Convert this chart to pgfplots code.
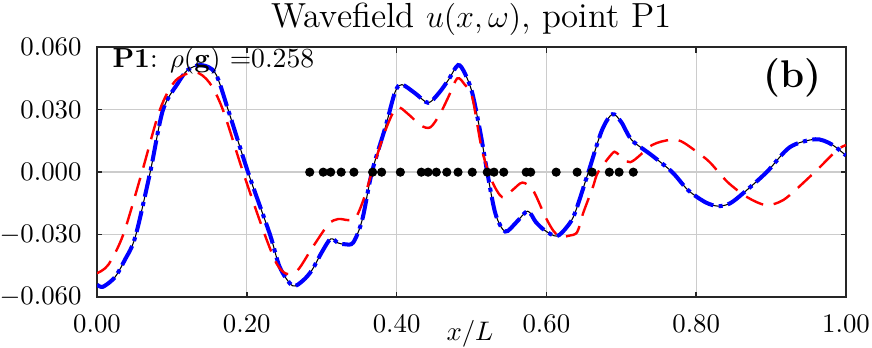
\documentclass[border=0pt]{standalone}
\usepackage{pgfplots}
\usepackage{pgfplotstable}
\pgfplotsset{compat=1.18}
\definecolor{gridgray}{gray}{0.80}
\definecolor{framegray}{gray}{0.15}
\pgfplotstableread{
x y
0.000 -0.0540
0.008 -0.0550
0.024 -0.0504
0.037 -0.0422
0.051 -0.0312
0.071 0.0000
0.088 0.0298
0.108 0.0427
0.121 0.0490
0.139 0.0514
0.158 0.0475
0.175 0.0300
0.2016 0.0000
0.231 -0.0300
0.244 -0.0456
0.261 -0.0545
0.275 -0.0520
0.287 -0.0470
0.300 -0.0385
0.312 -0.0320
0.322 -0.0340
0.331 -0.0346
0.342 -0.0338
0.354 -0.0230
0.367 0.0000
0.385 0.0216
0.398 0.0385
0.407 0.0420
0.425 0.0378
0.442 0.0333
0.456 0.0378
0.469 0.0442
0.482 0.0514
0.491 0.0475
0.501 0.0380
0.512 0.0187
0.521 0.0000
0.532 -0.0200
0.545 -0.0285
0.560 -0.0240
0.575 -0.0187
0.586 -0.0240
0.598 -0.0280
0.614 -0.0307
0.628 -0.0260
0.638 -0.0197
0.656 0.0000
0.674 0.0200
0.688 0.0278
0.700 0.0240
0.714 0.0154
0.741 0.0080
0.768 0.0000
0.789 -0.0086
0.812 -0.0144
0.829 -0.0163
0.845 -0.0150
0.863 -0.0100
0.894 0.0000
0.925 0.0120
0.959 0.0158
0.980 0.0135
1.000 0.0080
}\exact
\pgfplotstableread{
x y
0.000 -0.0485
0.015 -0.0445
0.035 -0.0300
0.060 0.0000
0.084 0.0300
0.105 0.0440
0.131 0.0480
0.150 0.0430
0.168 0.0300
0.195 0.0000
0.224 -0.0300
0.240 -0.0440
0.253 -0.0488
0.268 -0.0470
0.287 -0.0365
0.309 -0.0250
0.322 -0.0225
0.335 -0.0230
0.345 -0.0222
0.356 -0.0130
0.367 0.0000
0.385 0.0200
0.400 0.0310
0.415 0.0280
0.432 0.0225
0.445 0.0215
0.458 0.0280
0.469 0.0360
0.481 0.0450
0.491 0.0420
0.501 0.0360
0.514 0.0106
0.527 -0.0040
0.541 -0.0120
0.555 -0.0085
0.568 -0.0050
0.582 -0.0086
0.598 -0.0210
0.609 -0.0280
0.618 -0.0310
0.630 -0.0305
0.641 -0.0288
0.649 -0.0197
0.662 -0.0072
0.669 0.0000
0.688 0.0090
0.694 0.0092
0.712 0.0048
0.741 0.0130
0.765 0.0155
0.780 0.0148
0.801 0.0097
0.818 0.0048
0.842 -0.0048
0.868 -0.0120
0.892 -0.0158
0.910 -0.0145
0.925 -0.0110
0.961 0.0010
0.988 0.0106
1.000 0.0130
}\recon
\pgfplotstableread{
x y
0.284 0
0.302 0
0.312 0
0.326 0
0.343 0
0.368 0
0.380 0
0.405 0
0.433 0
0.442 0
0.453 0
0.467 0
0.482 0
0.501 0
0.521 0
0.530 0
0.543 0
0.573 0
0.579 0
0.613 0
0.641 0
0.661 0
0.684 0
0.697 0
0.716 0
}\points
\begin{document}
\begin{tikzpicture}
\begin{axis}[
  scale only axis,
  width=279.5pt, height=93.3pt,
  xmin=0, xmax=1, ymin=-0.06, ymax=0.06,
  xtick={0,0.2,0.4,0.6,0.8,1.0},
  ytick={-0.06,-0.03,0,0.03,0.06},
  scaled x ticks=false, scaled y ticks=false,
  xticklabel style={inner sep=0pt, anchor=north, yshift=-6.4pt, /pgf/number format/.cd, fixed, fixed zerofill, precision=2},
  yticklabel style={inner sep=0pt, anchor=east, xshift=-5.6pt, /pgf/number format/.cd, fixed, fixed zerofill, precision=3},
  grid=major,
  major grid style={gridgray, line width=0.5pt},
  axis line style={framegray, line width=0.6pt},
  tick style={framegray, line width=0.6pt},
  major tick length=2pt,
  tick align=inside,
  title={\fontsize{13}{15}\selectfont Wavefield $u(x,\omega)$, point P1},
  title style={at={(axis description cs:0.5,1)}, anchor=base, inner sep=0pt, yshift=1.5pt},
  xlabel={$x/L$},
  xlabel style={at={(axis description cs:0.498,0)}, anchor=base, inner sep=0pt, yshift=-16pt},
  clip=true,
]
\addplot[black, line width=0.4pt, smooth] table {\exact};
\addplot[blue, line width=1.5pt, dash pattern=on 8pt off 2pt on 1.5pt off 2pt, smooth] table {\exact};
\addplot[red, line width=0.9pt, dash pattern=on 7pt off 4pt, smooth] table {\recon};
\addplot[black, only marks, mark=*, mark size=1.5pt] table {\points};
\node[anchor=base west, inner sep=0pt] at (rel axis cs:0.02,1) [yshift=-7.5pt] {\fontsize{10.3}{12}\selectfont\textbf{P1}: $\rho(\mathbf{g})$ =0.258};
\node[anchor=base east, inner sep=0pt] at (rel axis cs:0.968,1) [yshift=-15pt] {\fontsize{14.4}{17}\selectfont\textbf{(b)}};
\coordinate (TL) at (rel axis cs:0,1);
\coordinate (BR) at (rel axis cs:1,0);
\end{axis}
\pgfresetboundingbox
\path[use as bounding box] ([xshift=-36.2pt,yshift=17.6pt]TL) rectangle ([xshift=9.7pt,yshift=-18.9pt]BR);
\end{tikzpicture}
\end{document}
